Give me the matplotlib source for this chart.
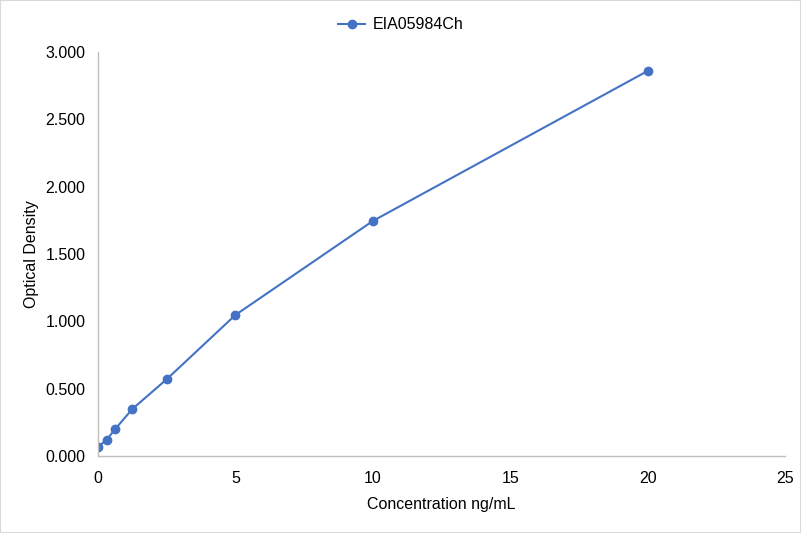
import matplotlib.pyplot as plt

# standard curve values
concentration = [0, 0.3125, 0.625, 1.25, 2.5, 5, 10, 20]
optical_density = [0.067, 0.120, 0.200, 0.349, 0.570, 1.047, 1.745, 2.859]
series_name = "EIA05984Ch"

plt.rcParams["font.family"] = ["Liberation Sans", "DejaVu Sans"]
fs = 11.5

fig = plt.figure(figsize=(8.01, 5.33), dpi=100)
ax = fig.add_axes([98 / 801, 1 - 456 / 533, (785 - 98) / 801, (456 - 52) / 533])

ax.plot(
    concentration,
    optical_density,
    marker="o",
    markersize=6,
    color="#4472C4",
    linewidth=1.5,
    label=series_name,
)

ax.set_xlim(0, 25)
ax.set_ylim(0, 3)
ax.set_xticks([0, 5, 10, 15, 20, 25])
ax.set_yticks([0, 0.5, 1, 1.5, 2, 2.5, 3])
ax.set_yticklabels([f"{v:.3f}" for v in ax.get_yticks()])
ax.tick_params(axis="x", length=0, labelsize=fs, colors="#000000", pad=11)
ax.tick_params(axis="y", length=0, labelsize=fs, colors="#000000", pad=9)

for side in ["top", "right"]:
    ax.spines[side].set_visible(False)
for side in ["left", "bottom"]:
    ax.spines[side].set_color("#BFBFBF")
    ax.spines[side].set_linewidth(1)

ax.set_xlabel("Concentration ng/mL", fontsize=fs, labelpad=8)
ax.set_ylabel("Optical Density", fontsize=fs, labelpad=5)

# legend is centred on the whole chart, not on the plot area
fig.legend(
    loc="upper center",
    bbox_to_anchor=(0.5, 1 - 3 / 533),
    frameon=False,
    fontsize=fs,
    handlelength=1.7,
    handletextpad=0.45,
)

# thin grey border around the whole chart
fig.patches.append(
    plt.Rectangle((0, 0), 1, 1, transform=fig.transFigure, fill=False,
                  edgecolor="#D9D9D9", linewidth=1.5)
)

fig.savefig("out.png", dpi=100)
